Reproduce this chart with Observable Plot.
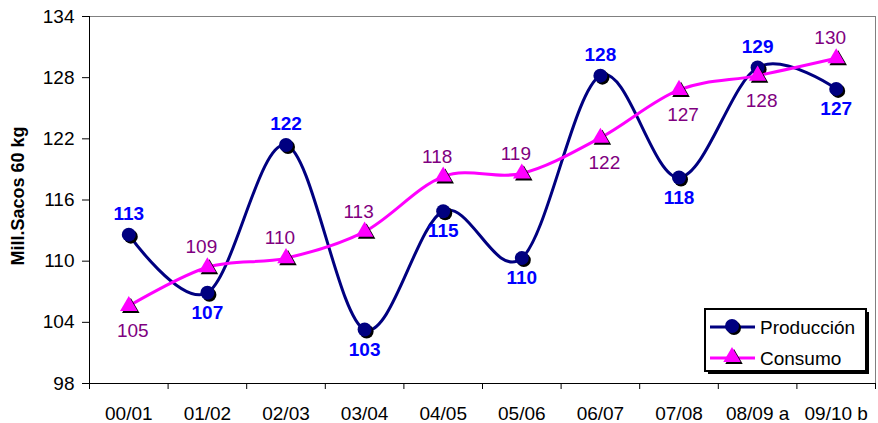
<!DOCTYPE html>
<html><head><meta charset="utf-8">
<script src="https://cdn.jsdelivr.net/npm/d3@7"></script>
<script src="https://cdn.jsdelivr.net/npm/@observablehq/plot@0.6"></script>
<style>
body{margin:0;background:#fff;}
#wrap{position:relative;width:878px;height:423px;font-family:"Liberation Sans",Arial,sans-serif;}
</style></head><body>
<div id="wrap"></div>
<script>
const seasons = ["00/01","01/02","02/03","03/04","04/05","05/06","06/07","07/08","08/09 a","09/10 b"];
const produccion = [112.6,106.9,121.4,103.3,114.9,110.3,128.2,118.2,129.0,126.9];
const consumo = [105.6,109.4,110.3,112.9,118.3,118.6,122.1,126.8,128.2,129.9];
const prodLabels = ["113","107","122","103","115","110","128","118","129","127"];
const consLabels = ["105","109","110","113","118","119","122","127","128","130"];
const prodLabelSide = ["above","below","above","below","below","below","above","below","above","below"];
const consLabelSide = ["below","above","above","above","above","above","below","below","below","above"];
const yTicks = [98,104,110,116,122,128,134];
const seriesNames = ["Producción","Consumo"];

const font = '"Liberation Sans", Arial, sans-serif';
const data = seasons.map((s,i)=>({i, s, prod: produccion[i], cons: consumo[i], pl: prodLabels[i], cl: consLabels[i], ps: prodLabelSide[i], cs: consLabelSide[i]}));
const curve = d3.curveCatmullRom.alpha(0);

const chart = Plot.plot({
  width: 878, height: 423,
  marginLeft: 89, marginRight: 3, marginTop: 16, marginBottom: 40,
  style: {fontFamily: font, fontSize: "19px", color: "#000", background: "#fff"},
  x: {type: "linear", domain: [-0.5, 9.5]},
  y: {domain: [98, 134]},
  marks: [
    Plot.ruleY([134], {stroke: "#808080"}),
    Plot.ruleX([9.5], {stroke: "#808080"}),
    Plot.axisY({ticks: yTicks, tickSize: 7, tickPadding: 8, label: null, fontSize: 19}),
    Plot.axisX({ticks: d3.range(-0.5, 10, 1), tickSize: 6, tickFormat: () => "", label: null}),
    Plot.text(data, {x: "i", text: "s", frameAnchor: "bottom", dy: 30, lineAnchor: "middle", fontSize: 19}),
    Plot.text(["Mill.Sacos 60 kg"], {frameAnchor: "left", textAnchor: "middle", lineAnchor: "middle", dx: -71, dy: -4, rotate: -90, fontWeight: "bold", fontSize: 18}),
    Plot.ruleX([-0.5], {stroke: "#000"}),
    Plot.ruleY([98], {stroke: "#000"}),
    Plot.line(data, {x: "i", y: "prod", stroke: "#000080", strokeWidth: 3, curve}),
    Plot.dot(data, {x: "i", y: "prod", r: 7, fill: "#000", dx: 2, dy: 2}),
    Plot.dot(data, {x: "i", y: "prod", r: 7, fill: "#000080"}),
    Plot.line(data, {x: "i", y: "cons", stroke: "#FF00FF", strokeWidth: 3, curve}),
    Plot.dot(data, {x: "i", y: "cons", r: 6.5, symbol: "triangle", fill: "#000", dx: 2, dy: 2}),
    Plot.dot(data, {x: "i", y: "cons", r: 6.5, symbol: "triangle", fill: "#FF00FF"}),
    Plot.text(data, {filter: d => d.ps === "above", x: "i", y: "prod", text: "pl", dy: -21, lineAnchor: "middle", fill: "#0000FF", fontWeight: "bold", fontSize: 19}),
    Plot.text(data, {filter: d => d.ps === "below", x: "i", y: "prod", text: "pl", dy: 20, lineAnchor: "middle", fill: "#0000FF", fontWeight: "bold", fontSize: 19}),
    Plot.text(data, {filter: d => d.cs === "above", x: "i", y: "cons", text: "cl", dx: -6, dy: -20, lineAnchor: "middle", fill: "#800080", fontSize: 19}),
    Plot.text(data, {filter: d => d.cs === "below", x: "i", y: "cons", text: "cl", dx: 4, dy: 25, lineAnchor: "middle", fill: "#800080", fontSize: 19})
  ]
});
const wrap = document.getElementById("wrap");
wrap.appendChild(chart);

// Legend
const lg = d3.create("svg").attr("width", 170).attr("height", 72)
  .style("position", "absolute").style("left", "703px").style("top", "307px");
lg.append("rect").attr("x", 5).attr("y", 5).attr("width", 161).attr("height", 62).attr("fill", "#000");
lg.append("rect").attr("x", 2).attr("y", 2).attr("width", 161).attr("height", 62).attr("fill", "#fff").attr("stroke", "#000").attr("stroke-width", 2);
const rows = [
  {name: seriesNames[0], color: "#000080", sym: d3.symbolCircle, size: Math.PI * 49, cy: 20},
  {name: seriesNames[1], color: "#FF00FF", sym: d3.symbolTriangle, size: Math.PI * 42, cy: 51}
];
for (const r of rows) {
  lg.append("line").attr("x1", 7).attr("x2", 52).attr("y1", r.cy).attr("y2", r.cy).attr("stroke", r.color).attr("stroke-width", 3);
  lg.append("path").attr("d", d3.symbol(r.sym, r.size)()).attr("transform", `translate(31,${r.cy + 1})`).attr("fill", "#000");
  lg.append("path").attr("d", d3.symbol(r.sym, r.size)()).attr("transform", `translate(29,${r.cy - 1})`).attr("fill", r.color);
  lg.append("text").attr("x", 57).attr("y", r.cy + 7).attr("font-family", font).attr("font-size", 19).attr("fill", "#000").text(r.name);
}
wrap.appendChild(lg.node());
</script>
</body></html>
